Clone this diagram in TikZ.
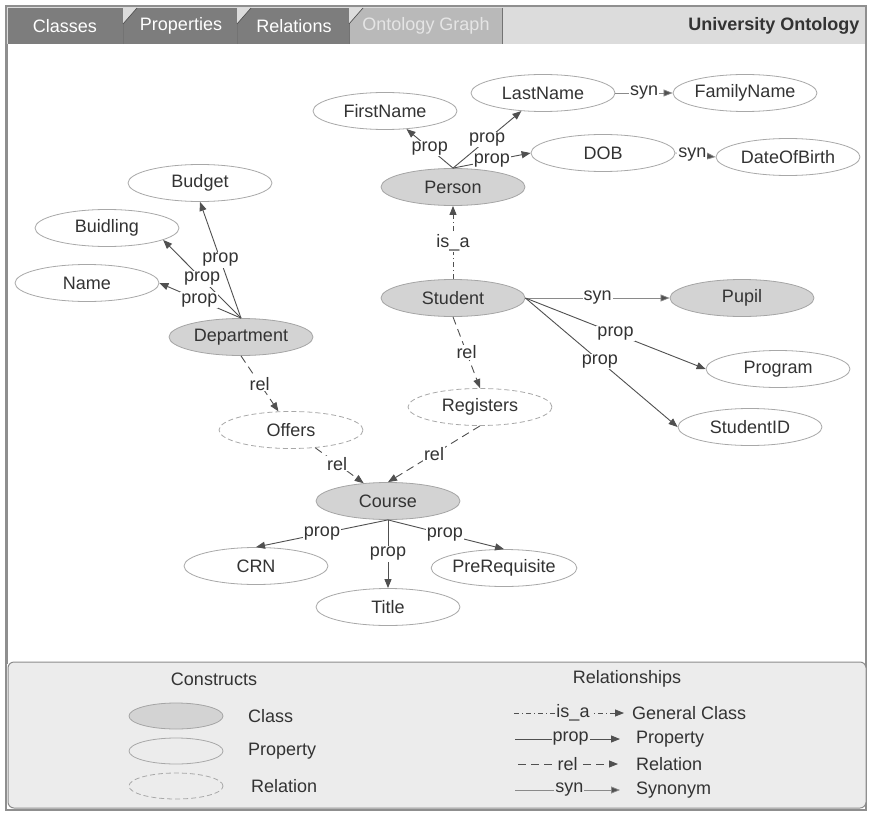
\documentclass[tikz,border=0pt]{standalone}
\usepackage{fontspec}
\setmainfont{Liberation Sans}
\usetikzlibrary{shapes.geometric,arrows.meta}
\definecolor{txt}{HTML}{333333}
\definecolor{clsfill}{HTML}{D3D3D3}
\definecolor{clsborder}{HTML}{A5A5A5}
\definecolor{prpborder}{HTML}{A8A8A8}
\definecolor{edgec}{HTML}{505050}
\definecolor{syncol}{HTML}{8A8A8A}
\definecolor{legbg}{HTML}{ECECEC}
\definecolor{legborder}{HTML}{8C8C8C}
\definecolor{tabdark}{HTML}{7D7D7D}
\definecolor{tablight}{HTML}{B9B9B9}
\definecolor{hdrbg}{HTML}{DCDCDC}
\definecolor{framec}{HTML}{8F8F8F}
\begin{document}
\begin{tikzpicture}[x=1pt,y=-1pt,
  font=\fontsize{18}{21}\selectfont,
  cls/.style={ellipse, draw=clsborder, fill=clsfill, line width=0.8pt, minimum width=144pt, minimum height=37pt, inner sep=0pt, text=txt},
  prp/.style={ellipse, draw=prpborder, fill=white, line width=0.8pt, minimum width=144pt, minimum height=37pt, inner sep=0pt, text=txt},
  rln/.style={prp, dash pattern=on 5pt off 3pt},
  propE/.style={draw=edgec, line width=0.9pt, -{Triangle[length=9pt,width=7pt]}},
  relE/.style={propE, dash pattern=on 8pt off 5pt},
  isaE/.style={propE, dash pattern=on 5pt off 3pt on 1pt off 3pt},
  synE/.style={propE, draw=syncol, line width=0.7pt, -{Triangle[length=9pt,width=7pt,fill=edgec]}},
  lbl/.style={fill=white, inner sep=1pt, text=txt},
  lgl/.style={fill=legbg, inner sep=1pt, text=txt},
  lgtext/.style={anchor=west, inner sep=0pt, text=txt},
  tabtext/.style={text=white},
]
\useasboundingbox (0,0) rectangle (869,813);
% header
\fill[white] (0,0) rectangle (869,813);
\fill[hdrbg] (6,6) rectangle (866,44);
\fill[tabdark] (8,8) rectangle (349,44);
\fill[tablight] (349,8) rectangle (502,44);
\draw[edgec!80, line width=0.8pt] (123,8) -- (123,44) (237,8) -- (237,44) (349,8) -- (349,44) (502,8) -- (502,44);
\foreach \tx in {123,237,349}{
  \fill[hdrbg] (\tx,8) -- (\tx+14,8) -- (\tx,24) -- cycle;
  \draw[edgec, line width=0.7pt] (\tx+14,8) -- (\tx,24);
}
\node[tabtext] (tclasses) at (65,26) {Classes};
\node[tabtext] (tprops) at (181,26) {Properties};
\node[tabtext] (trels) at (294,26) {Relations};
\node[text=white!90!black] (tgraph) at (426,26) {Ontology Graph};
\node[anchor=east, text=txt, font=\fontsize{18}{21}\selectfont\bfseries] (ttitle) at (863,26) {University Ontology};
% frame
\draw[framec, line width=1.2pt] (6,6) rectangle (866,810);
\draw[framec, line width=2.4pt] (7,44) -- (7,664);
% legend
\draw[legborder, fill=legbg, line width=1pt, rounded corners=6pt] (8,662) rectangle (866,808);

% nodes
\node[prp] (firstname) at (385,111) {FirstName};
\node[prp] (lastname) at (543,93) {LastName};
\node[prp] (familyname) at (745,93) {FamilyName};
\node[prp] (dob) at (603,153) {DOB};
\node[prp] (dateofbirth) at (788,157) {DateOfBirth};
\node[cls] (person) at (453,187) {Person};
\node[cls] (student) at (453,298) {Student};
\node[cls] (pupil) at (742,298) {Pupil};
\node[prp] (program) at (778,369) {Program};
\node[prp] (studentid) at (750,427) {StudentID};
\node[rln] (registers) at (480,407) {Registers};
\node[rln] (offers) at (291,430) {Offers};
\node[cls] (course) at (388,501) {Course};
\node[prp] (crn) at (256,566) {CRN};
\node[prp] (title) at (388,607) {Title};
\node[prp] (prereq) at (504,568) {PreRequisite};
\node[prp] (budget) at (200,183) {Budget};
\node[prp] (buidling) at (107,228) {Buidling};
\node[prp] (name) at (87,283) {Name};
\node[cls] (dept) at (241,337) {Department};

% edges
\draw[propE] (person.north) -- (firstname) node[lbl,pos=0.5] {prop};
\draw[propE] (person.north) -- (lastname) node[lbl,pos=0.5] {prop};
\draw[propE] (person.north) -- (dob.west) node[lbl,pos=0.5] {prop};
\draw[synE] (lastname.east) -- (familyname.west) node[lbl,pos=0.5] {syn};
\draw[synE] (dob.east) -- (dateofbirth.west) node[lbl,pos=0.42] {syn};
\draw[isaE] (student.north) -- (person.south) node[lbl,pos=0.5] {is\_a};
\draw[synE] (student.east) -- (pupil.west) node[lbl,pos=0.5] {syn};
\draw[propE] (student.east) -- (program.west) node[lbl,pos=0.5] {prop};
\draw[propE] (student.east) -- (studentid.west) node[lbl,pos=0.49] {prop};
\draw[relE] (student.south) -- (registers.north) node[lbl,pos=0.5] {rel};
\draw[relE] (registers.south) -- (course.north) node[lbl,pos=0.5] {rel};
\draw[relE] (dept.south) -- (offers) node[lbl,pos=0.5] {rel};
\draw[relE] (offers) -- (course) node[lbl,pos=0.45] {rel};
\draw[propE] (dept.north) -- (budget.south) node[lbl,pos=0.5] {prop};
\draw[propE] (dept.north) -- (buidling.-12) node[lbl,pos=0.5] {prop};
\draw[propE] (dept.north) -- (name.east) node[lbl,pos=0.51] {prop};
\draw[propE] (course.south) -- (crn.north) node[lbl,pos=0.5] {prop};
\draw[propE] (course.south) -- (title.north) node[lbl,pos=0.5] {prop};
\draw[propE] (course.south) -- (prereq.north) node[lbl,pos=0.49] {prop};

% legend content
\node[text=txt] (constructs) at (214,679) {Constructs};
\node[text=txt] (relationships) at (627,679) {Relationships};
\node[cls, minimum width=94pt, minimum height=26pt] (lgclass) at (176,716) {};
\node[prp, fill=legbg, minimum width=94pt, minimum height=26pt] (lgprop) at (176,751) {};
\node[rln, fill=legbg, minimum width=94pt, minimum height=26pt] (lgrel) at (176,786) {};
\node[lgtext] (lgclasst) at (248,716) {Class};
\node[lgtext] (lgpropt) at (248,751) {Property};
\node[lgtext] (lgrelt) at (251,786) {Relation};

\coordinate (r1) at (514,713);
\coordinate (r2) at (515,739);
\coordinate (r3) at (518,764);
\coordinate (r4) at (515,790);
\node[lgtext] (gclass) at (632,713) {General Class};
\node[lgtext] (gprop) at (636,739) {Property};
\node[lgtext] (grel) at (636,764) {Relation};
\node[lgtext] (gsyn) at (636,790) {Synonym};
\draw[isaE, shorten >=8pt] (r1) -- (gclass.west) node[lgl,pos=0.5] {is\_a};
\draw[propE, shorten >=16pt] (r2) -- (gprop.west) node[lgl,pos=0.46] {prop};
\draw[relE, shorten >=18pt] (r3) -- (grel.west) node[lgl,pos=0.42] {rel};
\draw[synE, shorten >=16pt] (r4) -- (gsyn.west) node[lgl,pos=0.45] {syn};
\end{tikzpicture}
\end{document}
